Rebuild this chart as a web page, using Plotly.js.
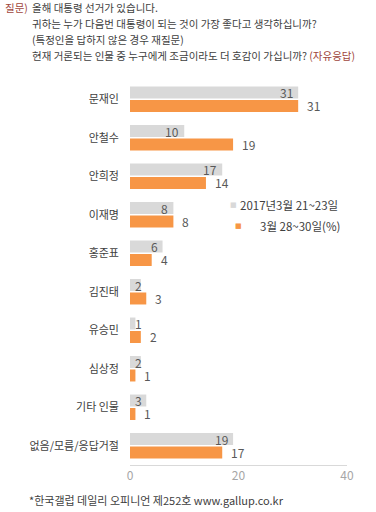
<!DOCTYPE html>
<html><head><meta charset="utf-8">
<script src="https://cdn.plot.ly/plotly-3.0.1.min.js"></script>
<style>body{margin:0;background:#fff}#chart{width:376px;height:512px}</style>
</head><body><div id="chart"></div>
<script>
const categories = ["문재인","안철수","안희정","이재명","홍준표","김진태","유승민","심상정","기타 인물","없음/모름/응답거절"];
const seriesPrev = [31,10,17,8,6,2,1,2,3,19];
const seriesNow = [31,19,14,8,4,3,2,1,1,17];
const seriesNames = ["2017년3월 21~23일","3월 28~30일(%)"];
const xTicks = [0,20,40];
const questionLines = ["올해 대통령 선거가 있습니다.","귀하는 누가 다음번 대통령이 되는 것이 가장 좋다고 생각하십니까?","(특정인을 답하지 않은 경우 재질문)","현재 거론되는 인물 중 누구에게 조금이라도 더 호감이 가십니까? <span style=\"color:#a0463c\">(자유응답)</span>"];
const footer = "*한국갤럽 데일리 오피니언 제252호 www.gallup.co.kr";

const FONT = "'Noto Sans CJK KR', 'Malgun Gothic', sans-serif";
const W = 376, H = 512, mL = 130, mR = 29, mT = 80, mB = 47;
const plotH = H - mT - mB, plotW = W - mL - mR;
const py = p => (H - mB - p) / plotH;   // pixel y -> paper
const px = p => (p - mL) / plotW;       // pixel x -> paper
const xMax = 40;
const dataToPx = v => mL + v / xMax * plotW;
const GRAY = "#d9d9d9", ORANGE = "#f79646", TXT = "#404040", NUM = "#595959";

const traces = [
  {type:"bar", orientation:"h", name:seriesNames[0], y:categories, x:seriesPrev, marker:{color:GRAY}, hoverinfo:"none", showlegend:false},
  {type:"bar", orientation:"h", name:seriesNames[1], y:categories, x:seriesNow, marker:{color:ORANGE}, hoverinfo:"none", showlegend:false}
];

const ann = [];
categories.forEach((c,i)=>{
  const v = seriesPrev[i];
  const endPx = dataToPx(v);
  const right = Math.max(endPx - 3, 144);
  ann.push({x:v, y:c, xref:"x", yref:"y", text:String(v), showarrow:false, xanchor:"right", xshift:right-endPx, yshift:6.5, font:{family:FONT,size:12,color:NUM}});
  ann.push({x:seriesNow[i], y:c, xref:"x", yref:"y", text:String(seriesNow[i]), showarrow:false, xanchor:"left", xshift:7, yshift:-6.5, font:{family:FONT,size:12,color:NUM}});
});
// question text
ann.push({x:px(3), y:py(8), xref:"paper", yref:"paper", text:"질문)", showarrow:false, xanchor:"left", yanchor:"middle", font:{family:FONT,size:10.5,color:"#a0463c"}});
questionLines.forEach((t,i)=>{
  ann.push({x:px(30), y:py(8+16*i), xref:"paper", yref:"paper", text:t, showarrow:false, xanchor:"left", yanchor:"middle", font:{family:FONT,size:10.5,color:TXT}});
});
// legend
ann.push({x:px(228), y:py(205), xref:"paper", yref:"paper", text:"■", showarrow:false, xanchor:"left", yanchor:"middle", font:{family:"DejaVu Sans",size:7,color:GRAY}});
ann.push({x:px(238), y:py(205), xref:"paper", yref:"paper", text:seriesNames[0], showarrow:false, xanchor:"left", yanchor:"middle", font:{family:FONT,size:11.5,color:TXT}});
ann.push({x:px(233), y:py(226), xref:"paper", yref:"paper", text:"■", showarrow:false, xanchor:"left", yanchor:"middle", font:{family:"DejaVu Sans",size:7,color:ORANGE}});
ann.push({x:px(258), y:py(226), xref:"paper", yref:"paper", text:seriesNames[1], showarrow:false, xanchor:"left", yanchor:"middle", font:{family:FONT,size:11.5,color:TXT}});
// footer
ann.push({x:px(27), y:py(500), xref:"paper", yref:"paper", text:footer, showarrow:false, xanchor:"left", yanchor:"middle", font:{family:FONT,size:11,color:TXT}});

const layout = {
  width:W, height:H, margin:{l:mL, r:mR, t:mT, b:mB, pad:0},
  paper_bgcolor:"#fff", plot_bgcolor:"#fff",
  barmode:"group", bargap:0.30, bargroupgap:0.11,
  showlegend:false,
  font:{family:FONT, color:TXT},
  xaxis:{range:[0,xMax], tickvals:xTicks, showgrid:false, zeroline:false, showline:true, linecolor:GRAY, linewidth:1, ticks:"", tickfont:{family:FONT,size:12,color:"#a6a6a6"}, fixedrange:true},
  yaxis:{autorange:"reversed", showgrid:false, zeroline:false, showline:false, ticks:"", ticklabelstandoff:10, tickfont:{family:FONT,size:11,color:TXT}, fixedrange:true},
  annotations:ann
};
Plotly.newPlot("chart", traces, layout, {displayModeBar:false, staticPlot:true});
</script></body></html>
